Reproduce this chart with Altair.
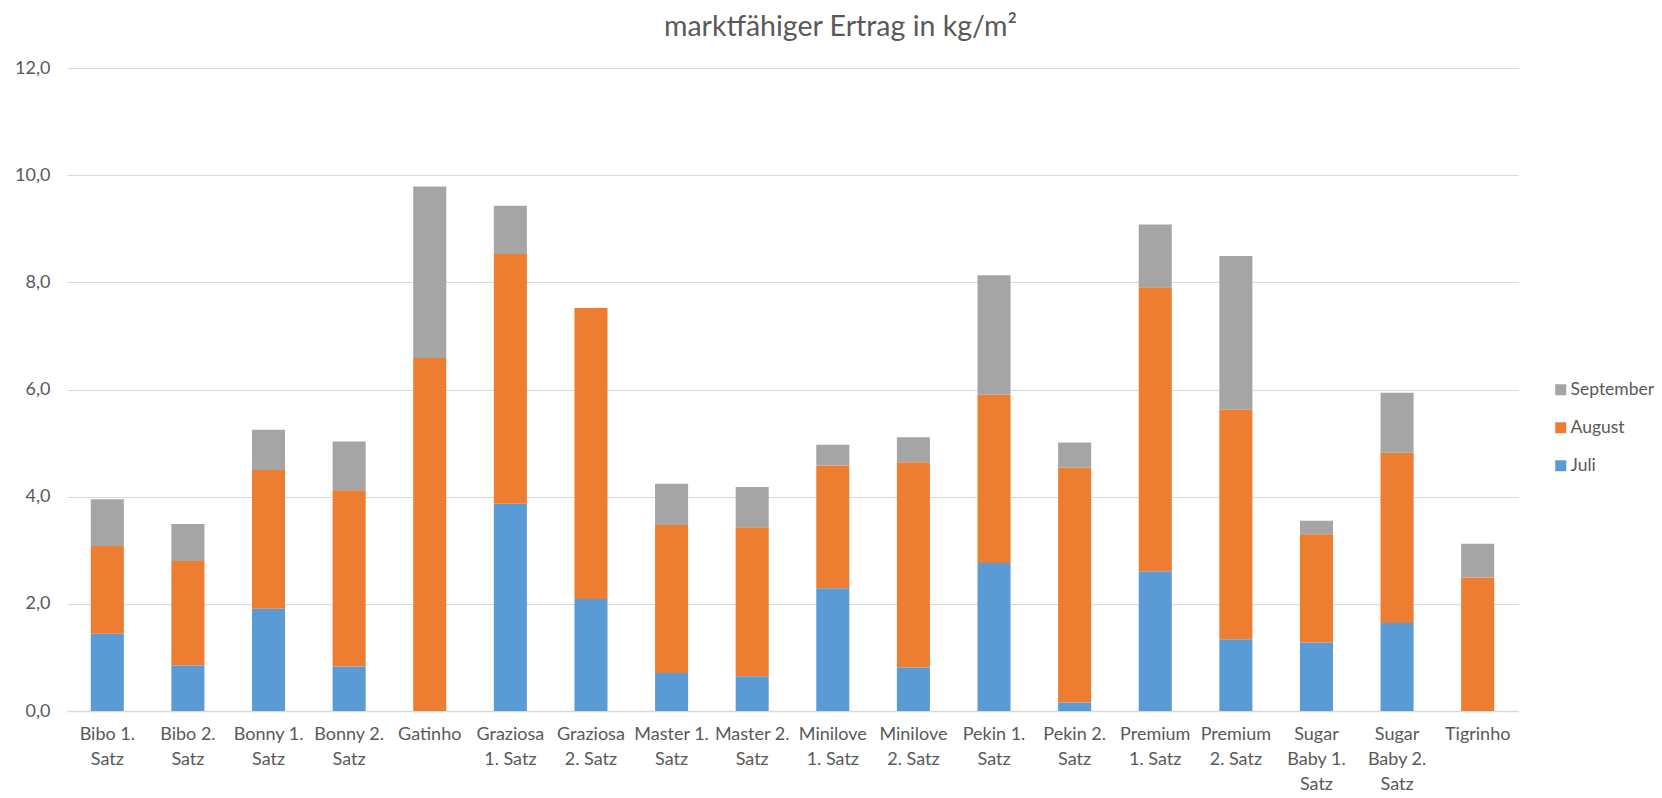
import altair as alt
import pandas as pd

# Varieties / plantings (x categories) and their wrapped axis labels
categories = [
    "Bibo 1. Satz", "Bibo 2. Satz", "Bonny 1. Satz", "Bonny 2. Satz", "Gatinho",
    "Graziosa 1. Satz", "Graziosa 2. Satz", "Master 1. Satz", "Master 2. Satz",
    "Minilove 1. Satz", "Minilove 2. Satz", "Pekin 1. Satz", "Pekin 2. Satz",
    "Premium 1. Satz", "Premium 2. Satz", "Sugar Baby 1. Satz", "Sugar Baby 2. Satz",
    "Tigrinho",
]
label_lines = [
    ["Bibo 1.", "Satz"], ["Bibo 2.", "Satz"], ["Bonny 1.", "Satz"], ["Bonny 2.", "Satz"],
    ["Gatinho"], ["Graziosa", "1. Satz"], ["Graziosa", "2. Satz"], ["Master 1.", "Satz"],
    ["Master 2.", "Satz"], ["Minilove", "1. Satz"], ["Minilove", "2. Satz"],
    ["Pekin 1.", "Satz"], ["Pekin 2.", "Satz"], ["Premium", "1. Satz"], ["Premium", "2. Satz"],
    ["Sugar", "Baby 1.", "Satz"], ["Sugar", "Baby 2.", "Satz"], ["Tigrinho"],
]

# Marketable yield per harvest month, kg/m²
juli = [1.44, 0.85, 1.91, 0.83, 0.00, 3.87, 2.09, 0.71, 0.65, 2.29, 0.81, 2.76, 0.16, 2.61, 1.34, 1.28, 1.64, 0.00]
august = [1.64, 1.95, 2.59, 3.29, 6.59, 4.66, 5.43, 2.76, 2.78, 2.29, 3.83, 3.14, 4.38, 5.30, 4.28, 2.02, 3.18, 2.49]
september = [0.87, 0.69, 0.75, 0.91, 3.20, 0.90, 0.00, 0.77, 0.75, 0.39, 0.47, 2.23, 0.47, 1.17, 2.87, 0.25, 1.12, 0.63]

months = ["Juli", "August", "September"]
month_colors = ["#5B9BD5", "#ED7D31", "#A5A5A5"]
legend_order = ["September", "August", "Juli"]
y_ticks = [0, 2, 4, 6, 8, 10, 12]

rows = []
for i, cat in enumerate(categories):
    for k, (m, vals) in enumerate(zip(months, [juli, august, september])):
        rows.append({"Sorte": cat, "Monat": m, "Ertrag": vals[i], "Reihe": k})
df = pd.DataFrame(rows)

label_map = "{" + ", ".join(
    "'" + c + "': [" + ", ".join("'" + s + "'" for s in lines) + "]"
    for c, lines in zip(categories, label_lines)
) + "}"

FONT = "Lato"
TEXT = "#595959"
GRID = "#D9D9D9"

chart = (
    alt.Chart(df)
    .mark_bar()
    .encode(
        x=alt.X(
            "Sorte:N",
            sort=categories,
            scale=alt.Scale(paddingInner=0.59, paddingOuter=0.295),
            axis=alt.Axis(
                title=None,
                labelAngle=0,
                labelExpr=label_map + "[datum.value]",
                labelFont=FONT,
                labelFontSize=18,
                labelColor=TEXT,
                labelLineHeight=25,
                labelPadding=14,
                labelBaseline="top",
                ticks=False,
                domainColor=GRID,
                domainWidth=1.5,
                grid=False,
            ),
        ),
        y=alt.Y(
            "Ertrag:Q",
            stack="zero",
            scale=alt.Scale(domain=[0, 12], nice=False),
            axis=alt.Axis(
                title=None,
                values=y_ticks,
                labelExpr="replace(format(datum.value, '.1f'), '.', ',')",
                labelFont=FONT,
                labelFontSize=18,
                labelColor=TEXT,
                labelPadding=17,
                ticks=False,
                domain=False,
                gridColor=GRID,
                gridWidth=1.2,
            ),
        ),
        color=alt.Color(
            "Monat:N",
            scale=alt.Scale(domain=months, range=month_colors),
            sort=legend_order,
            legend=alt.Legend(
                title=None,
                orient="none",
                legendX=1485,
                legendY=313,
                symbolType="square",
                symbolSize=121,
                symbolStrokeWidth=0,
                labelFont=FONT,
                labelFontSize=17.5,
                labelColor=TEXT,
                rowPadding=19,
                labelOffset=1,
                values=legend_order,
            ),
        ),
        order=alt.Order("Reihe:Q", sort="ascending"),
    )
    .properties(
        width=1451,
        height=643,
        background="white",
        title=alt.TitleParams(
            "marktfähiger Ertrag in kg/m²",
            font=FONT,
            fontSize=28.5,
            fontWeight="normal",
            color=TEXT,
            anchor="middle",
            dx=48,
            offset=18,
        ),
        autosize=alt.AutoSizeParams(type="none"),
        padding={"left": 67, "top": 68, "right": 144, "bottom": 87},
    )
    .configure_view(stroke="transparent", strokeWidth=0)
)

chart.save("out.html", embed_options={"renderer": "svg", "actions": False})
